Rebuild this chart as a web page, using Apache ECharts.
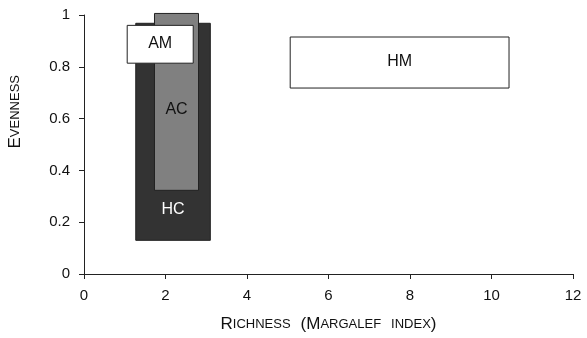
<!DOCTYPE html>
<html><head><meta charset="utf-8">
<script src="https://cdn.jsdelivr.net/npm/echarts@6/dist/echarts.min.js"></script>
<style>html,body{margin:0;padding:0;background:#fff}#c{width:587px;height:338px}</style>
</head><body><div id="c"></div>
<script>
const groups = ['HC', 'AC', 'AM', 'HM'];
const richMin = [1.27, 1.73, 1.06, 5.06];
const richMax = [3.10, 2.81, 2.68, 10.43];
const evenMin = [0.13, 0.323, 0.814, 0.718];
const evenMax = [0.968, 1.006, 0.96, 0.915];
const labelEven = [0.25, 0.635, 0.89, 0.82];
const fills = ['#333333', '#808080', '#ffffff', '#ffffff'];
const textColors = ['#ffffff', '#111111', '#111111', '#111111'];
const xTicks = [0, 2, 4, 6, 8, 10, 12];
const yTicks = [0, 0.2, 0.4, 0.6, 0.8, 1];

const data = groups.map((g, i) => [richMin[i], richMax[i], evenMin[i], evenMax[i], labelEven[i], i]);

const chart = echarts.init(document.getElementById('c'));
const font = 'Liberation Sans, Arial, sans-serif';
chart.setOption({
  animation: false,
  grid: { left: 84, right: 14, top: 15, bottom: 63 },
  xAxis: {
    type: 'value', min: xTicks[0], max: xTicks[xTicks.length - 1], interval: 2,
    axisLine: { lineStyle: { color: '#222', width: 1 } },
    axisTick: { show: true, length: 5, lineStyle: { color: '#222' } },
    splitLine: { show: false },
    axisLabel: { color: '#111', fontSize: 15, fontFamily: font, margin: 14 },
    name: '{b|R}{s|ICHNESS}   {b|(}{b|M}{s|ARGALEF}   {s|INDEX}{b|)}',
    nameLocation: 'middle', nameGap: 42,
    nameTextStyle: {
      rich: {
        b: { fontSize: 17, color: '#111', fontFamily: font },
        s: { fontSize: 13, color: '#111', fontFamily: font }
      }
    }
  },
  yAxis: {
    type: 'value', min: yTicks[0], max: yTicks[yTicks.length - 1], interval: 0.2,
    axisLine: { show: true, lineStyle: { color: '#222', width: 1 } },
    axisTick: { show: true, length: 5, lineStyle: { color: '#222' } },
    splitLine: { show: false },
    axisLabel: { color: '#111', fontSize: 15, fontFamily: font, margin: 14 }
  },
  graphic: [{
    type: 'text', left: 7, top: 75, rotation: Math.PI / 2,
    style: {
      text: '{b|E}{s|VENNESS}',
      rich: {
        b: { fontSize: 17, fill: '#111', fontFamily: font },
        s: { fontSize: 13, fill: '#111', fontFamily: font }
      }
    }
  }],
  series: [{
    type: 'custom',
    data: data,
    encode: { x: [0, 1], y: [2, 3] },
    renderItem: function (params, api) {
      const i = api.value(5);
      const p0 = api.coord([api.value(0), api.value(3)]);
      const p1 = api.coord([api.value(1), api.value(2)]);
      const lc = api.coord([(api.value(0) + api.value(1)) / 2, api.value(4)]);
      return {
        type: 'group',
        children: [{
          type: 'rect',
          shape: { x: p0[0], y: p0[1], width: p1[0] - p0[0], height: p1[1] - p0[1] },
          style: { fill: fills[i], stroke: '#222', lineWidth: 1 }
        }, {
          type: 'text',
          style: {
            x: lc[0], y: lc[1], text: groups[i], fill: textColors[i],
            fontSize: 16, fontFamily: font, align: 'center', verticalAlign: 'middle'
          }
        }]
      };
    }
  }]
});
</script></body></html>
